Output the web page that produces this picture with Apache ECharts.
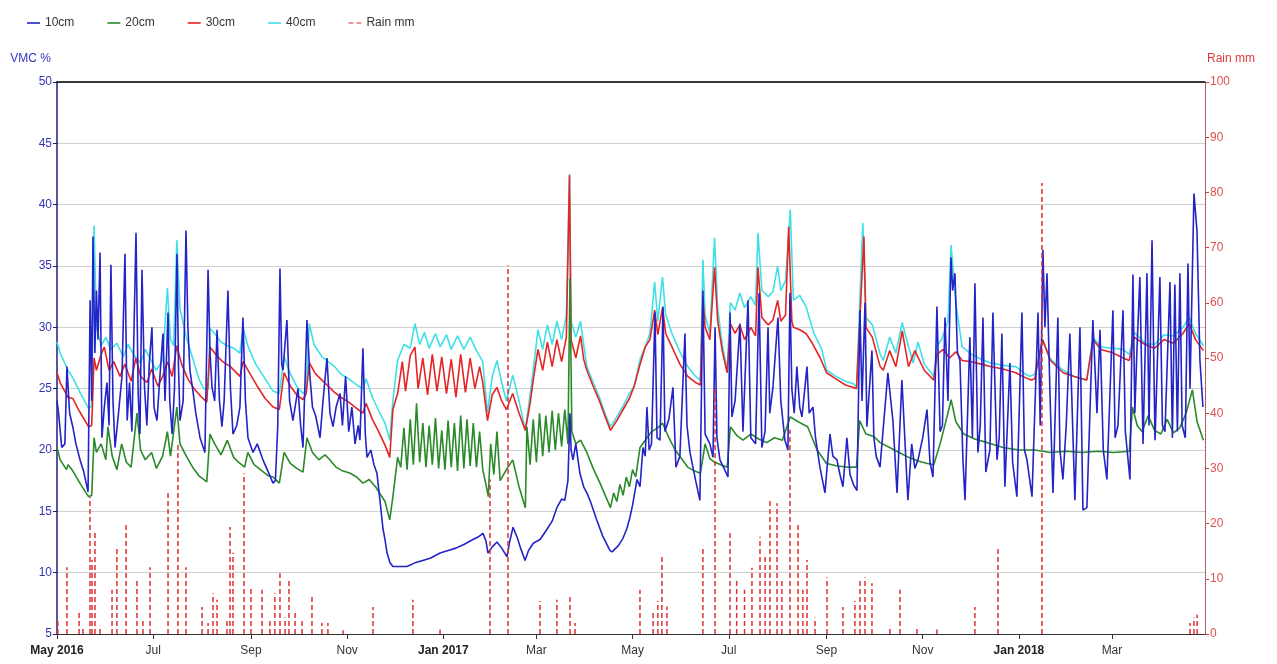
<!DOCTYPE html>
<html><head><meta charset="utf-8">
<script src="https://cdn.jsdelivr.net/npm/echarts@6/dist/echarts.min.js"></script>
<style>html,body{margin:0;padding:0;background:#fff}#c{width:1277px;height:664px}</style>
</head><body><div id="c"></div><script>
// ---- data: day offset from startDate, value ----
const startDate = '2016-05-01';
const endDate = '2018-04-29';
const tickDates = ['2016-05-01','2016-07-01','2016-09-01','2016-11-01','2017-01-01','2017-03-01','2017-05-01','2017-07-01','2017-09-01','2017-11-01','2018-01-01','2018-03-01'];
const tickLabels = ['May 2016','Jul','Sep','Nov','Jan 2017','Mar','May','Jul','Sep','Nov','Jan 2018','Mar'];
const seriesNames = ['10cm','20cm','30cm','40cm','Rain mm'];

const vmc40 = [[0,28.8],[2,27.9],[7,26.5],[10,25.9],[15,24.6],[20,23.4],[22,23.6],[23.5,38.3],[25,30],[28,28.5],[31,29.2],[34,28.2],[38,28.7],[42,27.6],[45,28.6],[50,27.5],[53,27.1],[56,28.2],[60,27.2],[63,26.5],[67,27.3],[70,33.2],[72,29],[74,28.5],[76,37.1],[78,31.5],[82,29.2],[86,27.5],[90,25.8],[93,25.0],[96,25.0],[97,29.9],[100,29.5],[104,28.8],[108,28.5],[112,28.3],[116,27.9],[118,30],[121,28.5],[126,27],[131,26],[137,24.8],[141,24.6],[144,27.6],[148,26.2],[152,25.2],[156,24.6],[158,25],[160,30.3],[163,28.6],[168,27.6],[172,27.2],[176,26.8],[180,26.2],[185,25.8],[190,25.3],[194,25.0],[196,25.8],[200,24.3],[204,23.2],[208,22.2],[211,20.8],[213,24],[216,27.3],[220,28.6],[224,28.3],[227,30.3],[230,28.6],[233,29.6],[236,28.3],[240,29.5],[243,28.4],[247,29.4],[250,28.2],[254,29.3],[258,28.2],[262,29.2],[266,28.1],[270,27.2],[273,23],[276,26],[279,27.3],[282,25.5],[285,24],[289,26.1],[293,24],[297,21.6],[300,24.5],[302,26.5],[305,29.8],[308,28.2],[311,30.2],[314,28.6],[317,30.5],[320,29],[323,31],[325,42.5],[326,30.5],[329,29.2],[332,30.5],[334,28.6],[336,26.8],[340,25.5],[344,24.3],[348,22.8],[351,21.9],[355,22.7],[359,23.6],[363,24.6],[366,25.2],[370,27.5],[373,28.4],[376,29.5],[379,33.7],[381,30.5],[384,34.1],[386,31],[390,29.5],[395,28],[400,26.8],[405,26],[408,25.7],[409.6,35.5],[411,31],[414,29.5],[417,37.3],[419,31.5],[422,28.5],[425,26.5],[427,32],[430,31.4],[433,32.8],[436,31.6],[440,32.5],[443,31.8],[444.5,37.7],[447,33],[451,32.5],[454,32.9],[457,35],[459,33],[462,33.8],[465,39.6],[467,32.2],[471,32.6],[475,31.7],[480,29.5],[485,28.2],[488,26.5],[494,26],[500,25.6],[505,25.4],[507,25.1],[511,38.5],[513,30.8],[517,30.2],[522,27.8],[524,27.3],[528,29.2],[532,27.9],[536,30.4],[540,28.4],[543,27.1],[546,28.8],[550,27],[556,26],[558,28.5],[561,29],[565,30.5],[567,36.7],[570,32],[574,28.4],[580,27.8],[586,27.4],[592,27.1],[600,26.9],[608,26.8],[614,26.2],[617,26],[620,26.2],[625,29],[630,27.4],[638,26.5],[645,26],[653,25.7],[657,29.2],[662,28.4],[670,28.3],[676,28.2],[680,27.8],[683,29.6],[690,28.7],[696,28.6],[702,29.4],[708,29.3],[714,30],[718,30.8],[722,29.5],[727,28.5]];

const vmc30 = [[0,26.3],[2,25.5],[7,24.3],[10,24.2],[14,23.2],[20,21.9],[22,22],[23.5,27.5],[25,26.5],[28,27.8],[30,28.4],[33,26.5],[36,27.2],[40,26],[43,27],[47,25.6],[50,27.5],[53,26],[57,25.5],[60,26.6],[64,25.2],[67,26],[70,27.2],[73,26],[76,28.5],[79,27],[83,25.8],[87,25],[91,24.4],[95,23.9],[97,28.4],[100,27.9],[105,27.2],[110,26.8],[116,26],[118,27.2],[122,26.3],[127,25.2],[132,24.2],[137,23.5],[141,23.3],[144,26.3],[148,25.2],[152,24.5],[156,24.1],[158,24.6],[160,27.1],[164,26.2],[168,25.7],[172,25.2],[176,24.7],[180,24.3],[185,23.9],[190,23.4],[194,23],[196,23.8],[200,22.5],[204,21.5],[208,20.4],[211,19.4],[213,23.3],[216,24.6],[219,27.2],[221,24.8],[224,27.7],[227,28.4],[229,25],[232,27.5],[235,24.5],[238,27.8],[241,24.8],[244,27.6],[247,24.6],[250,27.4],[253,24.3],[256,27.8],[259,24.7],[262,27.5],[265,25],[268,26.8],[270,25.5],[273,22.4],[276,24.5],[279,25.1],[282,24],[285,23.3],[289,24.6],[293,23],[297,21.6],[300,23.8],[302,25.7],[305,28.2],[308,26.5],[311,28.8],[314,26.8],[317,29],[320,27.2],[323,29.2],[325,42.4],[326,29],[329,27.5],[332,29.3],[334,27.4],[336,26.5],[340,25.2],[344,24],[348,22.6],[351,21.6],[355,22.4],[359,23.3],[363,24.2],[366,25.2],[370,27.1],[373,28.4],[376,29],[379,31.4],[381,29.4],[384,31.6],[386,29.5],[390,28.4],[395,27],[400,26],[405,25.5],[408,25.3],[409.6,32.5],[411,30],[414,29],[417,34.9],[419,30.5],[422,28],[425,26.3],[427,30.3],[430,29.5],[433,30.2],[436,29],[440,30],[443,29.3],[444.5,34.9],[447,30.8],[451,30.2],[454,30.6],[457,32.2],[459,30.5],[462,31],[464,38.2],[466,30.5],[467,30],[471,29.8],[475,29.5],[479,28.7],[484,27.5],[488,26.3],[494,25.8],[500,25.3],[505,25.1],[507,25],[511.7,37.4],[513,30],[517,29.2],[522,26.8],[524,26.5],[528,28.1],[532,26.8],[536,29.7],[540,26.8],[544,28.1],[550,26.5],[556,25.7],[558,27.8],[562,28.2],[566,27.5],[570,28],[574,27.3],[580,27.2],[586,27],[592,26.8],[600,26.6],[608,26.3],[614,25.9],[618,25.7],[620,25.8],[625,29],[630,27.3],[638,26.3],[645,26],[653,25.7],[657,29],[662,28.2],[670,27.9],[676,27.5],[680,27.3],[683,29.2],[690,28.6],[696,28.3],[702,29],[708,28.7],[714,29.5],[718,30.3],[722,29],[727,28.1]];

const vmc20 = [[0,20.2],[2,19.2],[6,18.4],[7,18.8],[10,18.3],[15,17.2],[20,16.2],[22,16.3],[23.5,21],[25,19.8],[28,20.5],[31,19.2],[32.3,21.9],[35,19.5],[38,18.4],[41,20.5],[44,19],[47,18.6],[50.7,23],[53,20],[56,19.2],[60,19.8],[63,18.5],[67,19.5],[70,21.5],[72,19.5],[76,23.5],[78,20.5],[82,19.5],[86,18.6],[90,17.9],[93,17.6],[95,17.4],[97,21.3],[100,20.5],[104,19.6],[108,20.8],[112,19.4],[116,18.9],[119,18.6],[121,19.8],[125,18.8],[130,18.3],[134,17.9],[137,17.8],[141,17.3],[144,19.8],[148,18.9],[152,18.5],[156,18.2],[158.5,21],[162,19.8],[166,19.2],[170,19.6],[173,19.2],[177,18.6],[181,18.3],[186,18.1],[190,17.8],[194,17.3],[198,17.6],[202,17],[205,16.4],[208,15.8],[211,14.3],[213,16.2],[216,19.4],[218,18.6],[220,21.8],[222,18.4],[224,22.5],[226,18.8],[228,23.8],[230,19],[232,22.2],[234,18.6],[236,22],[238,18.8],[240,22.6],[242,18.5],[244,21.6],[246,18.4],[248,22.4],[250,18.6],[252,22.2],[254,18.3],[256,22.8],[258,18.5],[260,22.5],[262,18.7],[264,22.2],[266,18.6],[268,21.5],[270,18.4],[272,17.2],[273.5,16.2],[275,20.5],[277,18],[279,21.5],[281,17.5],[285,18.4],[289,19.2],[293,17],[297,15.3],[298,21.9],[300,18.8],[302,22.5],[304,19],[306,23],[308,19.5],[310,22.8],[312,19.8],[314,23.2],[316,20],[318,23],[320,20.3],[322,23.3],[324,20.5],[325.3,34],[326.5,21.5],[329,20.5],[332,20.8],[336,19.8],[340,18.5],[344,17.4],[348,16.2],[351,15.3],[353,16.5],[355,15.8],[357,17.2],[359,16.3],[361,17.8],[363,17],[365,18.4],[367,17.8],[369.7,20.2],[373,20.8],[377,21.5],[381,21.8],[384,22.2],[388,21],[392,20],[396,19.3],[400,18.6],[404,18.3],[408,18.1],[411,20.5],[414,19.3],[417,19],[421,18.8],[425,18.6],[427,21.9],[431,21.2],[435,20.8],[440,21.3],[445,20.9],[450,20.6],[455,21],[460,20.8],[465,22.7],[470,22.3],[476,21.9],[482,20],[488,18.9],[495,18.7],[502,18.6],[507,18.6],[509,22.4],[513,21.3],[518,21.1],[522,20.6],[528,20.2],[534,19.8],[540,19.4],[546,19.1],[552,18.9],[556,18.8],[560,20.5],[564,22.5],[567,24.1],[570,22.3],[575,21.3],[582,20.9],[590,20.6],[600,20.2],[610,20],[620,20],[630,19.8],[640,19.9],[650,19.8],[660,19.9],[670,19.8],[680,19.9],[682,23.5],[685,22],[688,21.5],[692,22.8],[696,21.6],[700,21.3],[704,22.5],[708,21.4],[712,21.8],[716,23],[720,24.9],[723,22.3],[727,20.8]];

const vmc10 = [[0,24],[1,23],[3,20.2],[5,20.5],[6.3,26.8],[8,23],[10,21.9],[12,20.5],[14.6,19.2],[17,18.2],[19.7,16.6],[20.6,16.5],[21,32.2],[22,24],[22.8,37.4],[24,27.9],[25,33],[26,29],[27.3,36.1],[28.5,21],[30,23.5],[31.7,25.5],[33,22],[34.2,35.1],[35.5,24],[36.8,20.2],[39,23],[41.2,26],[43.1,36],[44.5,22.4],[46,25.5],[47.5,21.5],[50.1,37.7],[51.5,24.5],[52.6,21.3],[53.9,34.7],[55.5,25.1],[57,22],[58.5,27],[60.2,30],[61.5,23.5],[63.4,22.4],[65,25.5],[67.2,29.5],[68.5,24],[70.4,31.2],[71.5,24],[73,21.3],[74.5,25],[76.1,36],[77,27],[78,22.4],[80,24],[81.8,37.9],[83,30],[84.3,26.5],[86,25],[88,23],[90.7,21],[93.8,19.8],[95.8,34.7],[97,28],[98.3,25.1],[100,24],[101.5,29.8],[103,24],[104.6,21.9],[106,24],[108.4,33],[110,25],[111.6,21.3],[114,22],[116,23.5],[117.9,30.8],[119.5,24],[121.1,21],[124.3,19.8],[127,20.5],[130.6,19.2],[134,18.2],[137,17.3],[138.5,17.5],[140,22],[141.4,34.8],[142.5,27],[143.3,26.5],[145.8,30.6],[147.5,24],[149.6,22.4],[151,23.5],[152.8,25],[154.5,22],[156,20.2],[158.5,30.6],[160.4,26],[162,23.5],[164,22.8],[166.8,21],[168.7,24],[171.2,27.5],[173.1,23],[175,21.9],[177,23.5],[179.5,24.6],[181,22],[183,26],[185,21.5],[187,23.5],[189,20.5],[191,22],[192.1,20.8],[194,28.3],[195.5,21.3],[196.6,19.4],[199,20],[201,18.8],[202.9,18.1],[204.8,15.9],[206.7,13.6],[208,12.7],[209.3,11.6],[211.2,10.8],[213,10.5],[217,10.5],[221.9,10.5],[227,10.8],[232,11],[237,11.2],[242.9,11.6],[248,11.8],[253,12],[258,12.3],[263.8,12.7],[267,12.9],[270.1,13.2],[272,12.6],[273.3,11.6],[276,12.1],[279,12.5],[282,12],[285.4,11.3],[287,12.5],[289.2,13.7],[292,12.8],[294,12],[296.8,11],[299,11.8],[302,12.4],[306.3,12.7],[310,13.4],[314,14.2],[317,15.3],[320,16],[322,15.9],[324,17.5],[325.3,23],[326,20],[327.2,19.2],[329,20.5],[331.6,18.1],[334,17],[336,16.5],[338,15.9],[342,14.4],[346,13],[350.7,11.8],[352,11.7],[356,12.2],[358.9,12.8],[361.4,13.6],[363.3,14.5],[365,15.5],[367.8,17.6],[369.7,17],[371.6,20.2],[373,19.5],[374.1,23.5],[375.5,20],[377,20.5],[379.2,31.2],[380.5,21],[382.4,20.8],[384.3,31.7],[385.5,21.5],[388,22.5],[390.6,25.1],[392.5,18.6],[395,19.5],[398.2,29.5],[399.5,22],[401.4,19.8],[405,17.5],[407.7,15.9],[409.6,33],[411,21.3],[414,20.5],[416,19.4],[417.3,30],[418.5,21],[420.4,19.2],[423,18.5],[425.5,17.8],[426.8,31.2],[428,22.7],[430,24],[433.1,30.3],[435,21.5],[438.2,32.2],[440,21],[443,20.5],[445.2,32.8],[447,20.2],[449,21.5],[450.9,30],[452,23],[454,25.1],[457.2,30.8],[459,24],[461.6,20.8],[463.5,20],[464.8,32.8],[466,25],[467.5,23],[469.2,26.8],[471,23.5],[472.4,22.7],[475.6,26.8],[477,23],[479.4,23.5],[481,21],[483.8,18.6],[487,16.5],[488.3,18.5],[490.2,21.3],[492,19.5],[494.6,19.2],[496.5,18],[498.4,17],[500.9,21],[502.9,18],[505,17.2],[507.3,16.7],[509.2,31.4],[510.5,24],[512.4,32],[513.6,21.9],[516.8,28.1],[518,21],[519.5,19.5],[521.9,18.6],[526.9,26.3],[530.1,22.4],[532.7,16.5],[535.8,25.7],[539.6,15.9],[542,20.5],[544,18.5],[546,19.2],[549,21],[551.7,23.3],[553.6,19],[555.5,17.8],[558,31.7],[560,21.5],[561.5,22],[563.1,30.8],[565,24],[566.9,35.7],[568,33],[569.4,34.4],[571,28],[572.6,27.3],[574.5,19.2],[575.8,15.9],[578.9,29.2],[580.5,21],[582.1,33.6],[584,19.8],[585.5,22],[587.2,30.8],[589,18.2],[591.6,20],[593.5,31.2],[596.1,19.2],[597.5,21],[599.2,29.5],[601.1,17],[604.3,27.1],[606,19],[608.7,16.2],[611.9,31.2],[613.5,20],[615.1,19.2],[618.3,16.2],[622.1,31.2],[623.5,22],[625.2,36.3],[626.5,30],[627.8,34.4],[629.7,24.6],[631.6,16.5],[634.7,30.8],[636,20],[637.9,17.6],[640,22],[642.3,29.5],[645.5,15.9],[648.7,30],[650.6,15.1],[653.1,15.3],[656.9,30.6],[659.5,23],[661.4,29.8],[663.5,20],[665.8,17.6],[669.6,31.4],[671,21],[672.8,22],[676,31.4],[677.5,21.5],[680.4,17.6],[682.3,34.3],[683.5,23],[684.8,28],[686.7,34.1],[688.7,20.5],[691.2,34.4],[692.5,22],[694.4,37.1],[696.3,20.8],[699.4,34.1],[701,22],[702.6,21.5],[705.8,33.7],[707.3,21],[708.9,33.5],[710.5,21.5],[712.1,34.4],[713.5,22],[715.5,21],[717.2,35.2],[718.5,25],[721,40.9],[722.9,37.9],[724.8,27.3],[726.7,23.5]];

const rainEvents = [[0.5,2.5],[6.3,12.1],[14,3.8],[16.5,1],[20.9,24.8],[22.2,13.4],[24.1,18.3],[27.3,1.5],[34.9,8],[38,15.8],[43.8,20.1],[50.7,9.8],[54.5,2.5],[59,12.1],[70.4,25.5],[76.7,34.6],[81.8,12.1],[92,4.9],[95.8,2],[98.9,7.4],[101.5,6.2],[107.8,2.5],[109.7,19.4],[111.6,14.7],[118.6,29.1],[123,8.5],[130,8],[135,2.5],[138.2,7.4],[141.4,11],[144.6,3],[147.1,9.8],[151,4],[155.4,2.5],[161.7,6.7],[168,2],[171.8,2],[181.4,0.7],[200.4,4.9],[225.7,6.2],[242.9,0.8],[274.6,28],[286,66.8],[306.3,6],[317,6.2],[325.3,6.7],[328.5,2],[369.7,8],[378,4],[381,6],[383.6,14],[386.8,5],[409.6,16],[417.3,45],[426.8,18.8],[431,10],[436,8],[440.7,12],[445.8,17.6],[449,14],[452.1,24.3],[456.6,23.7],[459.7,10],[464.8,37],[469.9,20],[473,8],[475.6,13.4],[480.7,3],[488.3,10.3],[498.4,4.9],[506,6],[509.2,9.8],[512.4,10.3],[516.8,9.2],[528.2,1.5],[534.6,8],[545.3,1],[558,0.8],[582.1,4.9],[596.7,15.8],[624.6,81.7],[718.5,2],[721,3],[723,3.5]];

// ---- build ----
function toTime(s){const p=s.split('-').map(Number);return new Date(p[0],p[1]-1,p[2]).getTime();}
const DAY = 86400000;
const t0 = toTime(startDate);
const tMax = toTime(endDate);
const conv = arr => arr.map(p => [t0 + p[0]*DAY, p[1]]);
const tickTimes = tickDates.map(toTime);
const rainData = [];
rainEvents.forEach(e => { const t = t0 + e[0]*DAY; rainData.push([t,0],[t,e[1]],[t,'-']); });

const chart = echarts.init(document.getElementById('c'), null, {renderer:'canvas'});
const FONT = 'Liberation Sans, Arial, sans-serif';
function lineSeries(name, data, color, z){
  return {name, type:'line', data: conv(data), xAxisIndex:0, yAxisIndex:0, symbol:'none', showSymbol:false,
    lineStyle:{color, width:1.6}, itemStyle:{color}, z, animation:false};
}
function fmtTick(v){
  let best=0; tickTimes.forEach((t,k)=>{ if(Math.abs(t-v)<Math.abs(tickTimes[best]-v)) best=k; });
  const s=tickLabels[best]; return /\d{4}/.test(s)?'{b|'+s+'}':s;
}
const legendData = seriesNames.map(n => n === 'Rain mm'
  ? {name:n, icon:'path://M0,0H5V1H0Z M8,0H13V1H8Z'}
  : {name:n, icon:'rect'});
chart.setOption({
  animation:false,
  backgroundColor:'#ffffff',
  textStyle:{fontFamily:FONT},
  legend:{data:legendData, left:22, top:12, itemWidth:13, itemHeight:1.6, itemGap:33,
    textStyle:{color:'#333', fontSize:12, fontFamily:FONT}},
  grid:{left:57, right:72, top:82, bottom:30},
  xAxis:[
    {type:'value', min:t0, max:tMax, position:'bottom', scale:true,
     axisLine:{show:true, onZero:false, lineStyle:{color:'#333', width:1.2}},
     axisTick:{show:true, customValues:tickTimes, length:5, lineStyle:{color:'#333'}},
     axisLabel:{customValues:tickTimes, color:'#333', fontSize:12, fontFamily:FONT, margin:11,
       formatter:fmtTick, rich:{b:{fontWeight:'bold', color:'#222', fontSize:12, fontFamily:FONT}}},
     splitLine:{show:false}},
    {type:'value', min:t0, max:tMax, position:'top', scale:true,
     axisLine:{show:true, onZero:false, lineStyle:{color:'#000', width:1.5}}, axisTick:{show:false}, axisLabel:{show:false}, splitLine:{show:false}}
  ],
  yAxis:[
    {type:'value', min:5, max:50, interval:5, position:'left', name:'VMC %', nameLocation:'end', nameGap:17,
     nameTextStyle:{color:'#3535c0', fontSize:12, align:'right', padding:[0,6,0,0], fontFamily:FONT},
     axisLine:{show:true, onZero:false, lineStyle:{color:'#1d1d80', width:1.5}},
     axisTick:{show:true, length:4, lineStyle:{color:'#1d1d80'}},
     axisLabel:{color:'#3535b5', fontSize:12, margin:5, fontFamily:FONT},
     splitLine:{show:true, lineStyle:{color:'#cfcfcf', width:1}}},
    {type:'value', min:0, max:100, interval:10, position:'right', name:'Rain mm', nameLocation:'end', nameGap:17,
     nameTextStyle:{color:'#dd3b3b', fontSize:12, align:'left', padding:[0,0,0,2], fontFamily:FONT},
     axisLine:{show:true, onZero:false, lineStyle:{color:'#9a3a3a', width:1, type:'dotted'}},
     axisTick:{show:true, length:4, lineStyle:{color:'#c04040'}},
     axisLabel:{color:'#e05050', fontSize:12, margin:5, fontFamily:FONT},
     splitLine:{show:false}}
  ],
  series:[
    lineSeries('40cm', vmc40, '#3ee0e6', 2),
    lineSeries('30cm', vmc30, '#e52424', 3),
    lineSeries('20cm', vmc20, '#2a8a2a', 4),
    lineSeries('10cm', vmc10, '#2323c8', 5),
    {name:'Rain mm', type:'line', data:rainData, xAxisIndex:0, yAxisIndex:1, symbol:'none', showSymbol:false, connectNulls:false,
     lineStyle:{color:'#e03030', width:1.5, type:[5,3]}, itemStyle:{color:'#e03030'}, z:6, animation:false}
  ]
});
</script></body></html>
